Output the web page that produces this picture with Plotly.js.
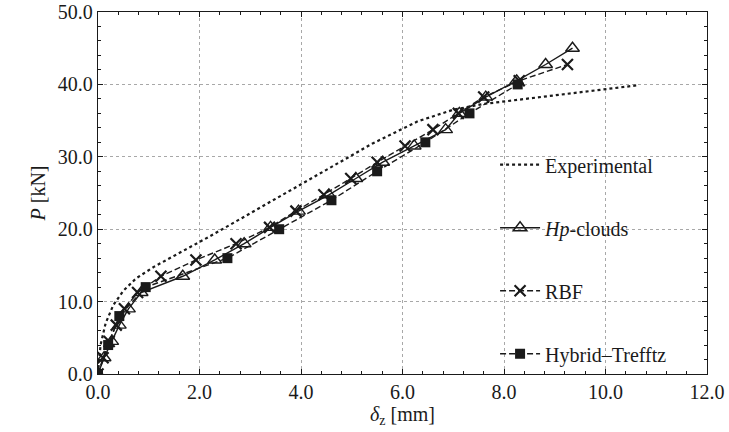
<!DOCTYPE html>
<html>
<head>
<meta charset="utf-8">
<script src="https://cdn.plot.ly/plotly-3.0.1.min.js"></script>
<style>html,body{margin:0;padding:0;background:#fff;}#chart{width:729px;height:432px;}</style>
</head>
<body>
<div id="chart"></div>
<script>
// Experimental (dotted line, no markers)
const expX = [0, 0.05, 0.15, 0.3, 0.5, 0.75, 1.1, 1.6, 2.2, 2.8, 3.5, 4.4, 5.4, 6.3, 7.0, 7.6, 8.4, 9.3, 10.0, 10.66];
const expP = [0, 4, 7, 9.5, 11.5, 13.2, 14.8, 16.7, 19.0, 21.4, 24.2, 27.9, 31.8, 34.9, 36.5, 37.3, 38.0, 38.7, 39.3, 39.9];

// Hp-clouds (solid line, open triangles)
const hpX = [0, 0.12, 0.27, 0.42, 0.6, 0.85, 1.67, 2.3, 2.88, 3.4, 3.95, 4.55, 5.08, 5.61, 6.23, 6.85, 7.12, 7.64, 8.25, 8.82, 9.35];
const hpP = [0, 2.25, 4.5, 6.75, 9, 11.25, 13.5, 15.75, 18, 20.25, 22.5, 24.75, 27, 29.25, 31.5, 33.75, 36, 38.25, 40.5, 42.75, 45];

// RBF (dashed line, crosses)
const rbfX = [0, 0.1, 0.22, 0.36, 0.52, 0.78, 1.24, 1.93, 2.72, 3.38, 3.9, 4.45, 4.98, 5.5, 6.05, 6.6, 7.1, 7.6, 8.3, 9.25];
const rbfP = [0, 2.25, 4.5, 6.75, 9, 11.25, 13.5, 15.75, 18, 20.25, 22.5, 24.75, 27, 29.25, 31.5, 33.75, 36, 38.25, 40.5, 42.75];

// Hybrid-Trefftz (dashed line, filled squares)
const htX = [0, 0.2, 0.42, 0.94, 2.55, 3.57, 4.6, 5.5, 6.45, 7.32, 8.27];
const htP = [0, 4, 8, 12, 16, 20, 24, 28, 32, 36, 40];

const names = ['Experimental', '<i>Hp</i>-clouds', 'RBF', 'Hybrid–Trefftz'];
const xTicks = [0, 2, 4, 6, 8, 10, 12];
const xTickText = ['0.0', '2.0', '4.0', '6.0', '8.0', '10.0', '12.0'];
const yTicks = [0, 10, 20, 30, 40, 50];
const yTickText = ['0.0', '10.0', '20.0', '30.0', '40.0', '50.0'];

const ink = '#1a1a1a';
const font = 'Liberation Serif, "DejaVu Serif", serif';
const fs = 20;

const traces = [
  {x: expX, y: expP, name: names[0], mode: 'lines', legendgroup: 'a',
   line: {color: ink, width: 2.2, dash: 'dot'}},
  {x: hpX, y: hpP, name: names[1], mode: 'lines+markers', legendgroup: 'b',
   line: {color: ink, width: 1.4},
   marker: {symbol: 'triangle-up-open', size: 12, color: ink, line: {width: 1.4, color: ink}}},
  {x: rbfX, y: rbfP, name: names[2], mode: 'lines+markers', legendgroup: 'c',
   line: {color: ink, width: 1.4, dash: '6px,3px'},
   marker: {symbol: 'x-thin-open', size: 11, color: ink, line: {width: 2.2, color: ink}}},
  {x: htX, y: htP, name: names[3], mode: 'lines+markers', legendgroup: 'd',
   line: {color: ink, width: 1.4, dash: '6px,3px'},
   marker: {symbol: 'square', size: 10, color: ink}}
];

const layout = {
  width: 729, height: 432,
  margin: {l: 98, r: 22, t: 12, b: 58},
  paper_bgcolor: '#fff', plot_bgcolor: '#fff',
  font: {family: font, size: fs, color: ink},
  showlegend: true,
  legend: {x: 0.652, xanchor: 'left', y: 0.632, yanchor: 'top', bgcolor: 'rgba(0,0,0,0)',
           borderwidth: 0, tracegroupgap: 34, traceorder: 'grouped', itemwidth: 40,
           font: {family: font, size: fs, color: ink}},
  xaxis: {
    range: [0, 12], tickvals: xTicks, ticktext: xTickText,
    showline: true, linecolor: ink, linewidth: 1.2, mirror: 'allticks',
    ticks: 'inside', ticklen: 5, tickcolor: ink,
    showgrid: true, gridcolor: '#a8a8a8', griddash: 'dot', gridwidth: 1,
    zeroline: false,
    minor: {dtick: 0.4, ticks: 'inside', ticklen: 3, tickcolor: ink, showgrid: false},
    tickfont: {family: font, size: fs, color: ink},
    title: {text: '<i>δ</i><sub>z</sub> [mm]', font: {family: font, size: fs, color: ink}, standoff: 3}
  },
  yaxis: {
    range: [0, 50], tickvals: yTicks, ticktext: yTickText,
    showline: true, linecolor: ink, linewidth: 1.2, mirror: 'allticks',
    ticks: 'inside', ticklen: 5, tickcolor: ink,
    showgrid: true, gridcolor: '#a8a8a8', griddash: 'dot', gridwidth: 1,
    zeroline: false,
    minor: {dtick: 2, ticks: 'inside', ticklen: 3, tickcolor: ink, showgrid: false},
    tickfont: {family: font, size: fs, color: ink},
    title: {text: '<i>P</i> [kN]', font: {family: font, size: fs, color: ink}, standoff: 6}
  }
};

Plotly.newPlot('chart', traces, layout, {displayModeBar: false, staticPlot: true});
</script>
</body>
</html>
